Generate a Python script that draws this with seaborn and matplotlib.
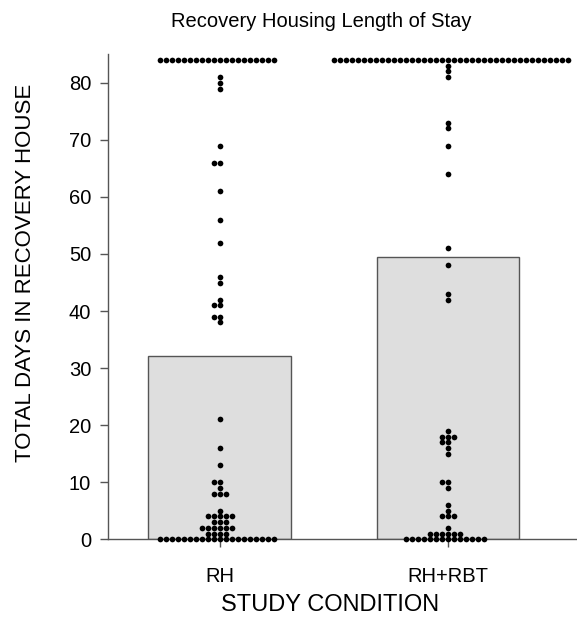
import numpy as np
import pandas as pd
import matplotlib
matplotlib.use('Agg')
import matplotlib.pyplot as plt
import seaborn as sns

# study groups and where they sit on the x axis
GROUPS = ['RH', 'RH+RBT']
GROUP_POS = [0.0, 0.7]

# mean days (bar heights)
BAR_MEANS = [32.2, 49.5]

# individual participants: distinct values and how many dots at each
RH_VALUES = [84, 81, 80, 79, 69, 66, 61, 56, 52, 46, 45, 42, 41, 39, 38,
             21, 16, 13, 10, 9, 8, 5, 4, 3, 2, 1, 0]
RH_COUNTS = [20, 1, 1, 1, 1, 2, 1, 1, 1, 1, 1, 1, 2, 2, 1,
             1, 1, 1, 2, 1, 3, 1, 5, 3, 6, 4, 20]

RBT_VALUES = [84, 83, 82, 81, 73, 72, 69, 64, 51, 48, 43, 42,
              19, 18, 17, 16, 15, 10, 9, 6, 5, 4, 2, 1, 0]
RBT_COUNTS = [40, 1, 1, 1, 1, 1, 1, 1, 1, 1, 1, 1,
              1, 3, 2, 1, 1, 2, 1, 1, 1, 3, 1, 6, 14]


def make_chart():
    sns.set_style('ticks')
    plt.rcParams['font.family'] = ['Liberation Sans', 'DejaVu Sans']
    plt.rcParams['text.color'] = 'black'
    plt.rcParams['axes.labelcolor'] = 'black'

    fig = plt.figure(figsize=(5.77, 6.17), dpi=100)
    ax = fig.add_axes([0.187, 0.126, 0.813, 0.786])

    # bars for the means
    bar_df = pd.DataFrame({'pos': GROUP_POS, 'days': BAR_MEANS})
    sns.barplot(data=bar_df, x='pos', y='days', native_scale=True, orient='x',
                width=0.627, color='#dedede', saturation=1,
                edgecolor='#555555', linewidth=1, ax=ax, zorder=1)

    # one swarm per group so each gets its own full width
    groups = [(RH_VALUES, RH_COUNTS), (RBT_VALUES, RBT_COUNTS)]
    for pos, (vals, counts) in zip(GROUP_POS, groups):
        days = np.repeat(vals, counts)
        df = pd.DataFrame({'pos': pos, 'days': days})
        sns.swarmplot(data=df, x='pos', y='days', native_scale=True, orient='x',
                      color='black', size=4.1, linewidth=0, ax=ax,
                      zorder=3, clip_on=False)

    ax.set_xlim(-0.344, 1.096)
    ax.set_ylim(0, 85)
    ax.set_yticks(range(0, 90, 10))
    ax.set_xticks(GROUP_POS)
    ax.set_xticklabels(GROUPS)
    ax.tick_params(axis='both', direction='out', length=6, width=1,
                   color='#555555', labelsize=14.5, labelcolor='black')
    ax.tick_params(axis='x', pad=14)
    ax.tick_params(axis='y', pad=6)
    sns.despine(ax=ax)
    for side in ['left', 'bottom']:
        ax.spines[side].set_color('#555555')
        ax.spines[side].set_linewidth(1)

    ax.set_title('Recovery Housing Length of Stay', fontsize=14.5, pad=20, x=0.454)
    ax.set_xlabel('STUDY CONDITION', fontsize=17)
    ax.xaxis.set_label_coords(0.473, -0.113)
    ax.set_ylabel('TOTAL DAYS IN RECOVERY HOUSE', fontsize=16)
    ax.yaxis.set_label_coords(-0.153, 0.55)

    fig.savefig('out.png', dpi=100)


if __name__ == "__main__":
    make_chart()
